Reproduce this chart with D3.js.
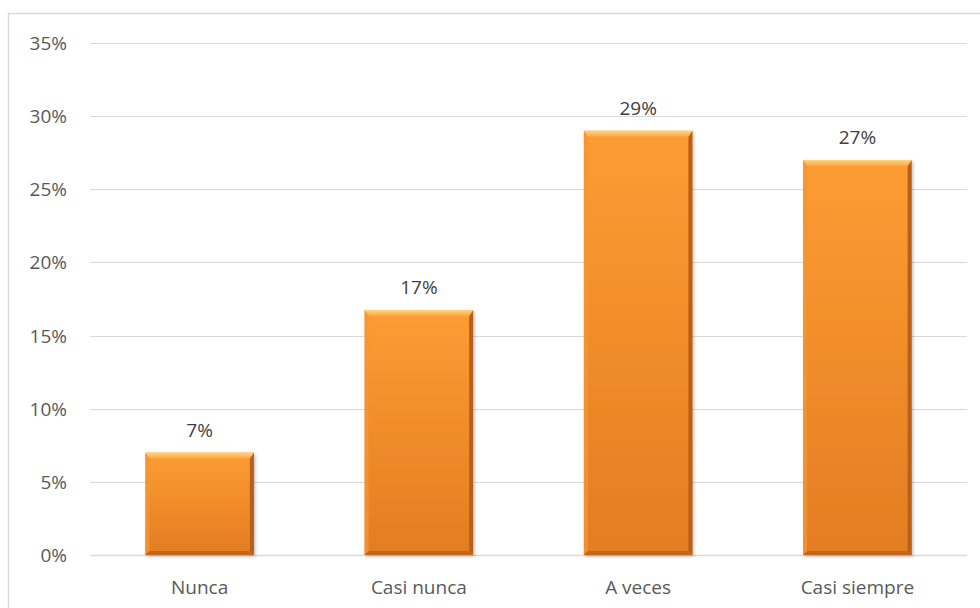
<!DOCTYPE html>
<html>
<head>
<meta charset="utf-8">
<script src="https://cdn.jsdelivr.net/npm/d3@7"></script>
<style>
  body { margin: 0; background: #fff; }
  text { font-family: "Open Sans", Lato, sans-serif; fill: #595959; }
</style>
</head>
<body>
<svg width="980" height="608"></svg>
<script>
// data
var categories = ['Nunca', 'Casi nunca', 'A veces', 'Casi siempre'];
var values = [0.07, 0.1675, 0.29, 0.27];
var labels = ['7%', '17%', '29%', '27%'];
var ticks = [0, 0.05, 0.10, 0.15, 0.20, 0.25, 0.30, 0.35];

var svg = d3.select('svg');
var margin = {top: 43, left: 90, right: 13, bottom: 53};
var W = 980, H = 608;
var fs = '19px';

// chart frame
svg.append('rect')
    .attr('x', 8.5).attr('y', 13.5)
    .attr('width', 1000).attr('height', 700)
    .attr('fill', 'none')
    .attr('stroke', '#d9d9d9')
    .attr('stroke-width', 1.5);

var x = d3.scaleBand()
    .domain(categories)
    .range([margin.left, W - margin.right])
    .paddingInner(0.505)
    .paddingOuter(0.2525);

var y = d3.scaleLinear()
    .domain([0, 0.35])
    .range([H - margin.bottom, margin.top]);

// gridlines
svg.append('g')
    .selectAll('line')
    .data(ticks)
    .enter()
    .append('line')
    .attr('x1', margin.left).attr('x2', W - margin.right)
    .attr('y1', d => Math.round(y(d)) + 0.5)
    .attr('y2', d => Math.round(y(d)) + 0.5)
    .attr('stroke', '#d9d9d9')
    .attr('stroke-width', d => d === 0 ? 1.5 : 1);

// y tick labels
svg.append('g')
    .selectAll('text')
    .data(ticks)
    .enter()
    .append('text')
    .attr('x', 67)
    .attr('y', d => y(d) + 7)
    .attr('text-anchor', 'end')
    .style('font-size', fs)
    .text(d => d3.format('.0%')(d));

// category labels
svg.append('g')
    .selectAll('text')
    .data(categories)
    .enter()
    .append('text')
    .attr('x', d => x(d) + x.bandwidth() / 2)
    .attr('y', H - margin.bottom + 39)
    .attr('text-anchor', 'middle')
    .style('font-size', fs)
    .text(d => d);

// gradients for the bevel look
var defs = svg.append('defs');
var body = defs.append('linearGradient').attr('id', 'body')
    .attr('x1', 0).attr('y1', 0).attr('x2', 0).attr('y2', 1);
body.append('stop').attr('offset', '0%').attr('stop-color', '#fd9c33');
body.append('stop').attr('offset', '100%').attr('stop-color', '#e27d22');

var topG = defs.append('linearGradient').attr('id', 'topBev')
    .attr('x1', 0).attr('y1', 0).attr('x2', 0).attr('y2', 1);
topG.append('stop').attr('offset', '0%').attr('stop-color', '#ffd480');
topG.append('stop').attr('offset', '100%').attr('stop-color', '#fda744');

var shadow = defs.append('filter').attr('id', 'shadow')
    .attr('x', '-10%').attr('y', '-10%').attr('width', '130%').attr('height', '130%');
shadow.append('feDropShadow')
    .attr('dx', 1.5).attr('dy', 1.5).attr('stdDeviation', 1.5)
    .attr('flood-color', '#000').attr('flood-opacity', 0.25);

var bars = svg.append('g')
    .selectAll('g')
    .data(values)
    .enter()
    .append('g');

var bevTop = 6, bevSide = 4;

bars.append('rect')
    .attr('x', (d, i) => x(categories[i]))
    .attr('y', d => y(d))
    .attr('width', x.bandwidth())
    .attr('height', d => y(0) - y(d))
    .attr('fill', 'url(#body)')
    .attr('filter', 'url(#shadow)');

// left bevel
bars.append('polygon')
    .attr('points', (d, i) => {
        var x0 = x(categories[i]), t = y(d), b = y(0);
        return [[x0, t], [x0 + bevSide, t + bevTop], [x0 + bevSide, b - bevSide], [x0, b]].join(' ');
    })
    .attr('fill', '#f59533')
    .attr('opacity', 0.8);

// right bevel (dark)
bars.append('polygon')
    .attr('points', (d, i) => {
        var x1 = x(categories[i]) + x.bandwidth(), t = y(d), b = y(0);
        return [[x1, t], [x1 - bevSide, t + bevTop], [x1 - bevSide, b - bevSide], [x1, b]].join(' ');
    })
    .attr('fill', '#b8601a');

// bottom bevel (dark)
bars.append('polygon')
    .attr('points', (d, i) => {
        var x0 = x(categories[i]), x1 = x0 + x.bandwidth(), b = y(0);
        return [[x0, b], [x1, b], [x1 - bevSide, b - bevSide], [x0 + bevSide, b - bevSide]].join(' ');
    })
    .attr('fill', '#c4671c');

// top bevel (light)
bars.append('polygon')
    .attr('points', (d, i) => {
        var x0 = x(categories[i]), x1 = x0 + x.bandwidth(), t = y(d);
        return [[x0, t], [x1, t], [x1 - bevSide, t + bevTop], [x0 + bevSide, t + bevTop]].join(' ');
    })
    .attr('fill', 'url(#topBev)');

// data labels
bars.append('text')
    .attr('x', (d, i) => x(categories[i]) + x.bandwidth() / 2)
    .attr('y', d => y(d) - 16)
    .attr('text-anchor', 'middle')
    .style('font-size', fs)
    .style('fill', '#404040')
    .text((d, i) => labels[i]);
</script>
</body>
</html>
